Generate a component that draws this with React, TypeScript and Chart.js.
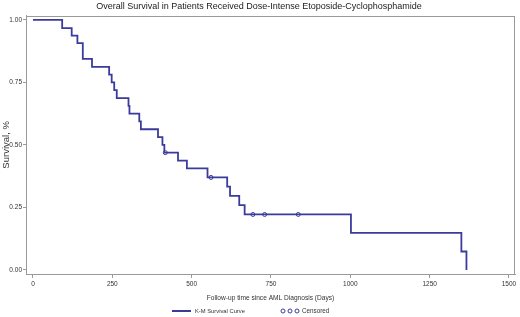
import React, { useEffect, useRef } from "react";
import { Chart, registerables } from "chart.js";

Chart.register(...registerables);

const titleText = "Overall Survival in Patients Received Dose-Intense Etoposide-Cyclophosphamide";
const xTitle = "Follow-up time since AML Diagnosis (Days)";
const yTitle = "Survival, %";

// Kaplan-Meier step points (days, survival)
const kmDays = [0, 92, 122, 140, 157, 186, 240, 248, 256, 264, 301, 304, 335, 340, 394, 408, 414, 457, 485, 550, 612, 621, 650, 667, 1002, 1350, 1366];
const kmSurv = [1.0, 0.967, 0.937, 0.907, 0.844, 0.812, 0.781, 0.75, 0.719, 0.687, 0.656, 0.625, 0.594, 0.5625, 0.531, 0.5, 0.469, 0.4375, 0.406, 0.37, 0.333, 0.296, 0.259, 0.222, 0.148, 0.074, 0.0];

// Censored observations
const censDays = [417, 561, 693, 730, 836];
const censSurv = [0.469, 0.37, 0.222, 0.222, 0.222];

const xTickValues = [0, 250, 500, 750, 1000, 1250, 1500];
const yTickValues = [0, 0.25, 0.5, 0.75, 1.0];

const legendLine = "K-M Survival Curve";
const legendCens = "Censored";

const LINE_COLOR = "#3b3b9c";
const FRAME_COLOR = "#9a9a9a";
const TEXT_COLOR = "#333333";
const FONT = "'Liberation Sans', Arial, sans-serif";

export default function App() {
  const ref = useRef<HTMLCanvasElement | null>(null);

  useEffect(() => {
    document.body.style.margin = "0";
    const canvas = ref.current;
    if (!canvas) return;

    const framePlugin = {
      id: "frameAndLegend",
      afterDraw(chart: any) {
        const { ctx, chartArea } = chart;
        ctx.save();
        ctx.strokeStyle = FRAME_COLOR;
        ctx.lineWidth = 1;
        ctx.strokeRect(
          Math.round(chartArea.left) + 0.5,
          Math.round(chartArea.top) + 0.5,
          Math.round(chartArea.right - chartArea.left) - 1,
          Math.round(chartArea.bottom - chartArea.top)
        );
        // legend
        const ly = 311;
        ctx.strokeStyle = LINE_COLOR;
        ctx.lineWidth = 2;
        ctx.beginPath();
        ctx.moveTo(172, ly);
        ctx.lineTo(191, ly);
        ctx.stroke();
        ctx.fillStyle = TEXT_COLOR;
        ctx.font = `5.8px ${FONT}`;
        ctx.textBaseline = "middle";
        ctx.textAlign = "left";
        ctx.fillText(legendLine, 195, ly);
        ctx.lineWidth = 1;
        ctx.strokeStyle = LINE_COLOR;
        [283, 290, 297].forEach((cx) => {
          ctx.beginPath();
          ctx.arc(cx, ly, 2, 0, Math.PI * 2);
          ctx.stroke();
        });
        ctx.font = `6.3px ${FONT}`;
        ctx.fillText(legendCens, 302, ly);
        ctx.restore();
      },
    };

    const chart = new Chart(canvas, {
      type: "scatter",
      data: {
        datasets: [
          {
            label: legendLine,
            data: kmDays.map((d, i) => ({ x: d, y: kmSurv[i] })),
            showLine: true,
            stepped: "before",
            borderColor: LINE_COLOR,
            borderWidth: 1.8,
            pointRadius: 0,
            fill: false,
          },
          {
            label: legendCens,
            data: censDays.map((d, i) => ({ x: d, y: censSurv[i] })),
            showLine: false,
            pointStyle: "circle",
            pointRadius: 2,
            pointBorderWidth: 1,
            pointBorderColor: LINE_COLOR,
            pointBackgroundColor: "rgba(255,255,255,0)",
          },
        ],
      },
      options: {
        responsive: false,
        animation: false,
        devicePixelRatio: 1,
        layout: { padding: { left: 0, right: 2, top: 0, bottom: 0 } },
        plugins: {
          legend: { display: false },
          tooltip: { enabled: false },
          title: {
            display: true,
            text: titleText,
            color: "#222222",
            font: { family: FONT, size: 9, weight: "normal" },
            padding: { top: 1, bottom: 4 },
          },
        },
        scales: {
          x: {
            type: "linear",
            min: -22,
            max: 1519,
            afterBuildTicks: (scale: any) => {
              scale.ticks = xTickValues.map((v) => ({ value: v }));
            },
            afterFit: (scale: any) => {
              scale.height = 43;
            },
            ticks: {
              color: TEXT_COLOR,
              font: { family: FONT, size: 6.5 },
              padding: 2,
              maxRotation: 0,
              autoSkip: false,
              callback: (v: any) => String(v),
            },
            grid: {
              display: true,
              drawOnChartArea: false,
              drawTicks: true,
              tickLength: 4,
              color: FRAME_COLOR,
            },
            border: { display: true, color: FRAME_COLOR },
            title: {
              display: true,
              text: xTitle,
              color: TEXT_COLOR,
              font: { family: FONT, size: 6.6 },
              padding: { top: 4, bottom: 15 },
            },
          },
          y: {
            type: "linear",
            min: -0.016,
            max: 1.016,
            afterBuildTicks: (scale: any) => {
              scale.ticks = yTickValues.map((v) => ({ value: v }));
            },
            afterFit: (scale: any) => {
              scale.width = 26;
            },
            ticks: {
              color: TEXT_COLOR,
              font: { family: FONT, size: 6.5 },
              padding: 1,
              autoSkip: false,
              callback: (v: any) => Number(v).toFixed(2),
            },
            grid: {
              display: true,
              drawOnChartArea: false,
              drawTicks: true,
              tickLength: 3,
              color: FRAME_COLOR,
            },
            border: { display: true, color: FRAME_COLOR },
            title: {
              display: true,
              text: yTitle,
              color: TEXT_COLOR,
              font: { family: FONT, size: 9.5 },
              padding: { top: 1, bottom: 0 },
            },
          },
        },
      },
      plugins: [framePlugin],
    } as any);

    return () => {
      chart.destroy();
    };
  }, []);

  return (
    <div style={{ width: 520, height: 317, background: "#ffffff" }}>
      <canvas ref={ref} width={520} height={317} style={{ display: "block" }} />
    </div>
  );
}
